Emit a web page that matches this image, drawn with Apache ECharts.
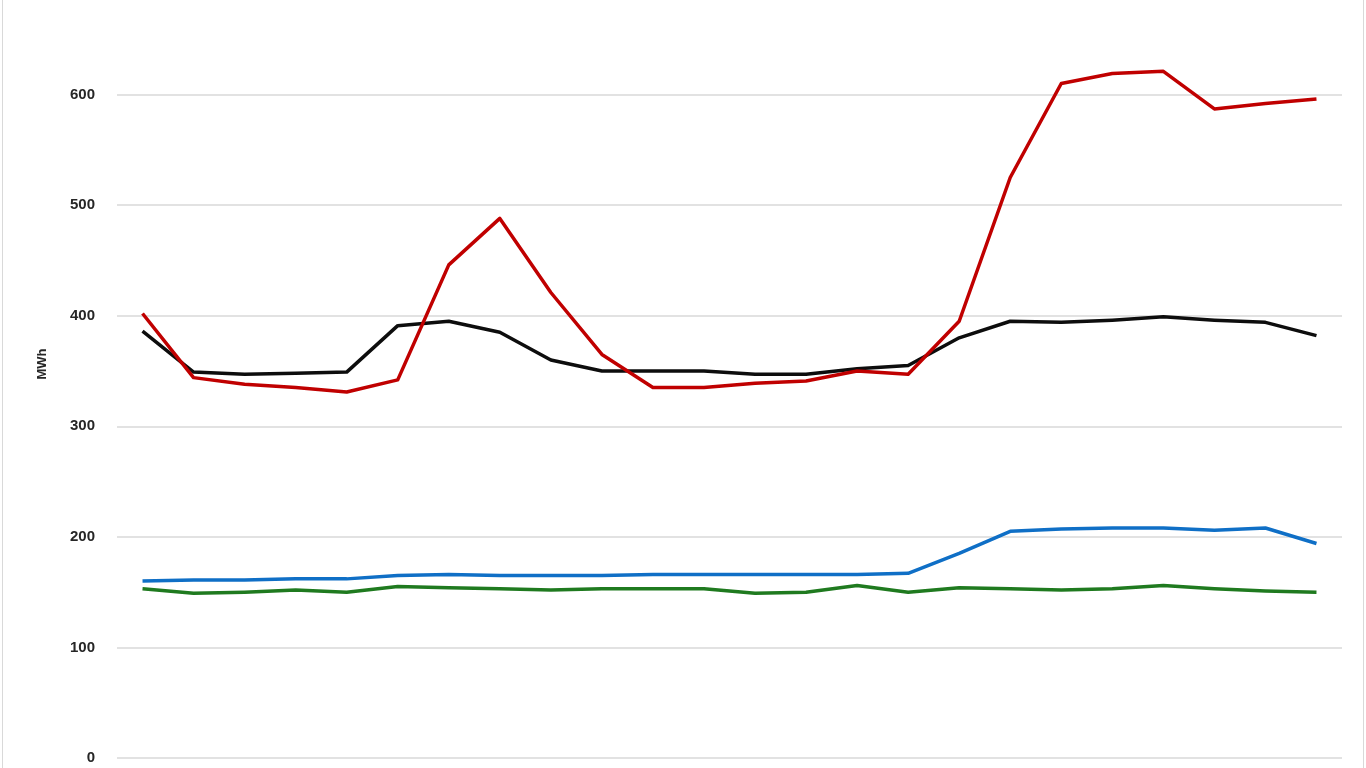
<!DOCTYPE html>
<html>
<head>
<meta charset="utf-8">
<script src="https://cdn.jsdelivr.net/npm/echarts@6/dist/echarts.min.js"></script>
<style>
html,body{margin:0;padding:0;background:#fff;overflow:hidden;width:1366px;height:768px;}
#frame{position:absolute;left:0;top:0;width:1366px;height:768px;overflow:hidden;}
#chart{position:absolute;left:0;top:-16px;width:1366px;height:784px;}
#border{position:absolute;left:2px;top:-5px;width:1362px;height:790px;border:1.5px solid #d9d9d9;box-sizing:border-box;pointer-events:none;}
</style>
</head>
<body>
<div id="frame"><div id="chart"></div><div id="border"></div></div>
<script>
const categories = ['1','2','3','4','5','6','7','8','9','10','11','12','13','14','15','16','17','18','19','20','21','22','23','24'];
const redSeries = [402, 344, 338, 335, 331, 342, 446, 488, 421, 365, 335, 335, 339, 341, 350, 347, 395, 525, 610, 619, 621, 587, 592, 596];
const blackSeries = [386, 349, 347, 348, 349, 391, 395, 385, 360, 350, 350, 350, 347, 347, 352, 355, 380, 395, 394, 396, 399, 396, 394, 382];
const blueSeries = [160, 161, 161, 162, 162, 165, 166, 165, 165, 165, 166, 166, 166, 166, 166, 167, 185, 205, 207, 208, 208, 206, 208, 194];
const greenSeries = [153, 149, 150, 152, 150, 155, 154, 153, 152, 153, 153, 153, 149, 150, 156, 150, 154, 153, 152, 153, 156, 153, 151, 150];
const yTicks = {min: 0, max: 700, interval: 100};
const yName = 'MWh';

const chart = echarts.init(document.getElementById('chart'));
const mk = (data, color) => ({
  type: 'line', data: data, symbol: 'none', smooth: false,
  lineStyle: {color: color, width: 3.5, join: 'round'},
  itemStyle: {color: color}, z: 3
});
chart.setOption({
  animation: false,
  backgroundColor: '#ffffff',
  grid: {left: 117, right: 24, top: 0, bottom: 10, containLabel: false, outerBoundsMode: 'none'},
  xAxis: {
    type: 'category', data: categories, boundaryGap: true,
    axisLine: {show: false}, axisTick: {show: false}, axisLabel: {show: false},
    splitLine: {show: false}
  },
  yAxis: {
    type: 'value', min: yTicks.min, max: yTicks.max, interval: yTicks.interval,
    name: yName, nameLocation: 'middle', nameGap: 68, nameRotate: 90,
    nameTextStyle: {fontFamily: 'Liberation Sans, Arial, sans-serif', fontSize: 13, fontWeight: 'bold', color: '#262626', padding: [0, 0, 0, 14]},
    axisLine: {show: false}, axisTick: {show: false},
    axisLabel: {margin: 22, fontFamily: 'Liberation Sans, Arial, sans-serif', fontSize: 15, fontWeight: 'bold', color: '#262626'},
    splitLine: {lineStyle: {color: '#d9d9d9', width: 1.5}}
  },
  series: [
    mk(greenSeries, '#1f7a1f'),
    mk(blueSeries, '#0f6fc6'),
    mk(blackSeries, '#0d0d0d'),
    mk(redSeries, '#c00000')
  ]
});
</script>
</body>
</html>
